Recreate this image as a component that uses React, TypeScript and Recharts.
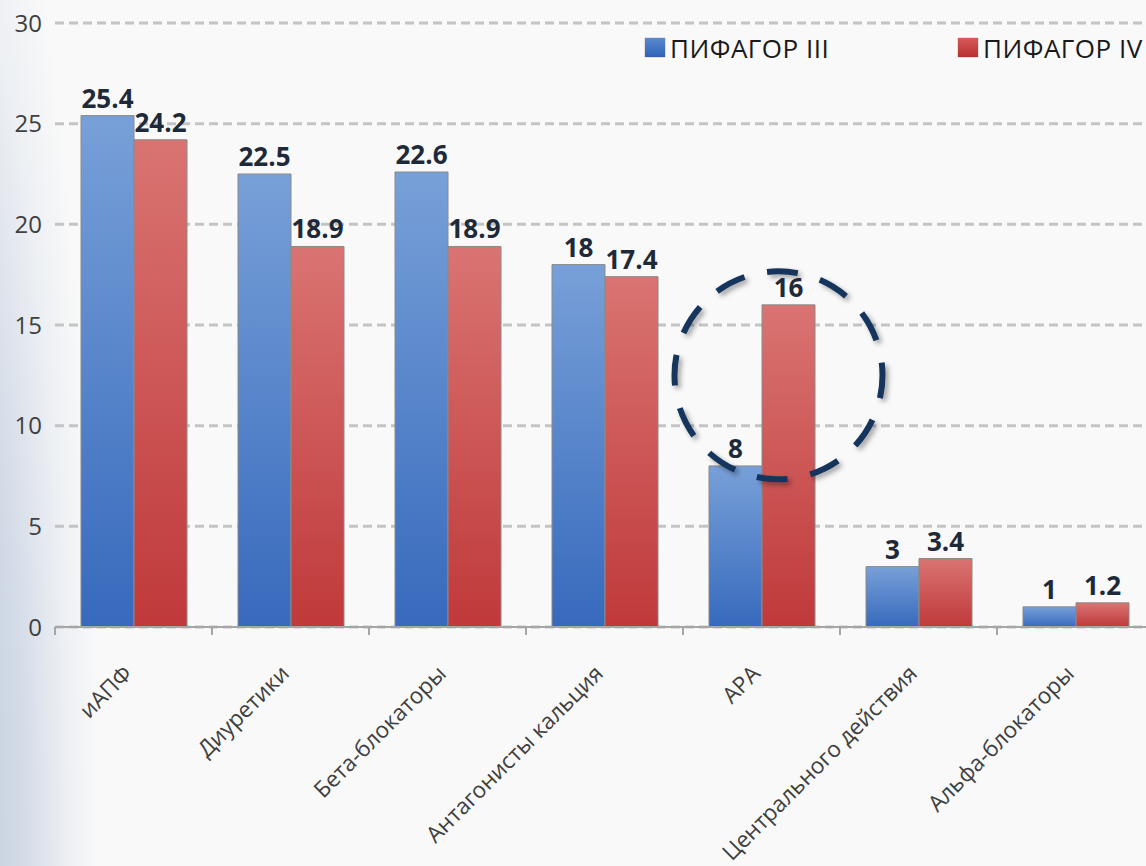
import React from 'react';
import { BarChart, Bar, XAxis, YAxis, CartesianGrid, LabelList, ReferenceDot } from 'recharts';

const categories = ['иАПФ', 'Диуретики', 'Бета-блокаторы', 'Антагонисты кальция', 'АРА', 'Центрального действия', 'Альфа-блокаторы'];
const pifagor3 = [25.4, 22.5, 22.6, 18, 8, 3, 1];
const pifagor4 = [24.2, 18.9, 18.9, 17.4, 16, 3.4, 1.2];
const seriesNames = ['ПИФАГОР III', 'ПИФАГОР IV'];
const yTicks = [0, 5, 10, 15, 20, 25, 30];
const highlightCategory = 'АРА';
const highlightValue = 12.5;

const data = categories.map((c, i) => ({ name: c, p3: pifagor3[i], p4: pifagor4[i] }));

const FONT = '"Open Sans", "Noto Sans", sans-serif';

const XTick = (props: any) => {
  const { x, y, payload } = props;
  const half = payload && typeof payload.offset === 'number' && payload.offset > 0 ? payload.offset : 78.5;
  const tx = x;
  const ty = y + 40;
  return (
    <g>
      <line x1={x - half} x2={x - half} y1={y - 8} y2={y} stroke="#a6a6a6" strokeWidth={2} />
      <line x1={x + half} x2={x + half} y1={y - 8} y2={y} stroke="#a6a6a6" strokeWidth={2} />
      <text
        x={tx}
        y={ty}
        transform={`rotate(-45, ${tx}, ${ty})`}
        textAnchor="end"
        fontSize={22.5}
        fontFamily={FONT}
        fill="#404040"
      >
        {payload.value}
      </text>
    </g>
  );
};

const HighlightCircle = (props: any) => {
  const { cx, cy } = props;
  if (cx == null || cy == null) return null;
  return (
    <circle
      cx={cx + 17}
      cy={cy}
      r={104}
      fill="none"
      stroke="#17365d"
      strokeWidth={6}
      strokeDasharray="31 23"
      strokeDashoffset={8}
      filter="url(#circShadow)"
    />
  );
};

const labelStyle = { fontSize: 26, fontWeight: 700, fontFamily: FONT, fill: '#1e2a3a' };

export default function App() {
  return (
    <div
      style={{
        position: 'absolute',
        left: 0,
        top: 0,
        width: 1146,
        height: 866,
        overflow: 'hidden',
        background:
          'radial-gradient(ellipse 160px 1200px at -60px 900px, rgba(184,196,214,1) 0%, rgba(205,214,228,0.9) 50%, rgba(228,233,240,0.6) 80%, rgba(249,249,249,0) 100%), #f9f9f9',
      }}
    >
      <BarChart
        width={1170}
        height={866}
        data={data}
        margin={{ top: 23, right: 16, left: 0, bottom: 179 }}
        barCategoryGap={26}
        barGap={0}
        style={{ position: 'absolute', left: 0, top: 0 }}
      >
        <defs>
          <linearGradient id="gBlue" x1="0" y1="0" x2="0" y2="1">
            <stop offset="0%" stopColor="#78a0d8" />
            <stop offset="100%" stopColor="#376abd" />
          </linearGradient>
          <linearGradient id="gRed" x1="0" y1="0" x2="0" y2="1">
            <stop offset="0%" stopColor="#d97472" />
            <stop offset="100%" stopColor="#c0393a" />
          </linearGradient>
          <filter id="circShadow" x="-20%" y="-20%" width="140%" height="140%">
            <feDropShadow dx="3" dy="3" stdDeviation="2.5" floodColor="#000" floodOpacity="0.35" />
          </filter>
        </defs>
        <CartesianGrid
          vertical={false}
          stroke="#c4c4c4"
          strokeWidth={3}
          strokeDasharray="9 5"
        />
        <XAxis
          dataKey="name"
          axisLine={{ stroke: '#a6a6a6', strokeWidth: 2 }}
          tickLine={false}
          tickSize={8}
          tickMargin={0}
          height={60}
          interval={0}
          tick={<XTick />}
        />
        <YAxis
          domain={[0, 30]}
          ticks={yTicks}
          width={55}
          axisLine={false}
          tickLine={false}
          tickSize={6}
          tickMargin={7}
          tick={{ fontSize: 24, fontFamily: FONT, fill: '#404040' }}
        />
        <Bar dataKey="p3" name={seriesNames[0]} fill="url(#gBlue)" stroke="#8a8a8a" strokeWidth={1} isAnimationActive={false}>
          <LabelList dataKey="p3" position="top" offset={8} style={labelStyle} />
        </Bar>
        <Bar dataKey="p4" name={seriesNames[1]} fill="url(#gRed)" stroke="#8a8a8a" strokeWidth={1} isAnimationActive={false}>
          <LabelList dataKey="p4" position="top" offset={8} style={labelStyle} />
        </Bar>
        <ReferenceDot x={highlightCategory} y={highlightValue} r={104} shape={<HighlightCircle />} />
      </BarChart>
      {seriesNames.map((n, i) => (
        <div key={n} style={{ position: 'absolute', left: i === 0 ? 645 : 958, top: 36, height: 26, whiteSpace: 'nowrap' }}>
          <div
            style={{
              position: 'absolute',
              left: 0,
              top: 2,
              width: 20,
              height: 19,
              background: i === 0 ? 'linear-gradient(#5b8ad0, #2f62b6)' : 'linear-gradient(#d65a58, #b8302f)',
              boxShadow: '0 0 1px #666',
            }}
          />
          <div
            style={{
              position: 'absolute',
              left: 25,
              top: -1,
              fontFamily: FONT,
              fontSize: 26,
              lineHeight: '26px',
              letterSpacing: 0.5,
              color: '#1a1a1a',
            }}
          >
            {n}
          </div>
        </div>
      ))}
    </div>
  );
}
